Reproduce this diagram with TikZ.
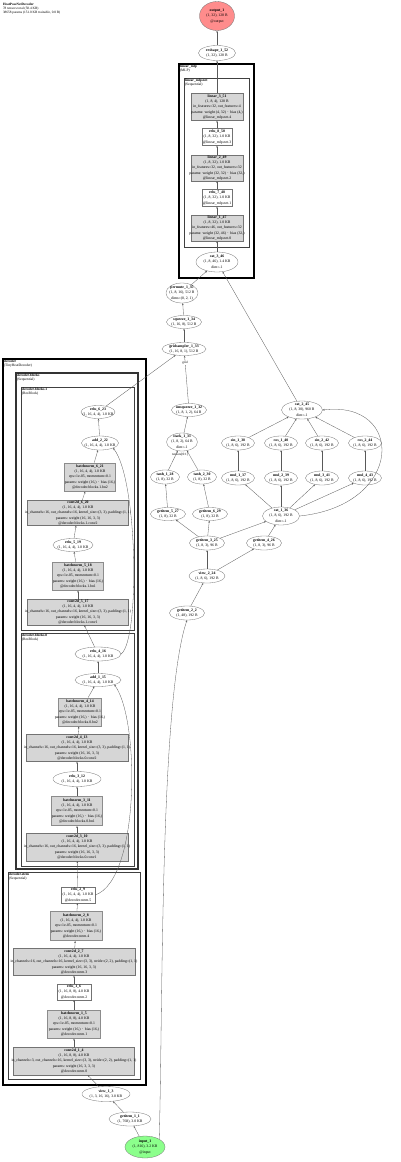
\documentclass[tikz,border=0pt]{standalone}
\usepackage{fontspec}
\setmainfont{Liberation Serif}
\usetikzlibrary{shapes.geometric,arrows.meta}
\newcommand{\T}[1]{\smash{\raisebox{-0.28em}{\makebox[0pt]{\begin{tabular}{@{}c@{}}#1\end{tabular}}}}}
\tikzset{
  base/.style={font=\fontsize{3.8}{5.2}\selectfont, inner sep=0pt, draw=black!55, line width=0.3pt},
  ell/.style={base, ellipse, fill=white},
  gbox/.style={base, rectangle, fill=black!16},
  bnbox/.style={base, rectangle, fill=black!16, draw=black!45, line width=1pt},
  wbox/.style={base, rectangle, fill=white},
  edge/.style={-{Stealth[length=2pt,width=1.6pt]}, draw=black!65, line width=0.3pt},
  clus/.style={draw=black, line width=#1},
  clab/.style={font=\fontsize{3.6}{4.2}\selectfont, align=left, anchor=north west, inner sep=0.8pt},
  elab/.style={font=\fontsize{3.3}{3.8}\selectfont, inner sep=0.3pt}
}
\begin{document}
\begin{tikzpicture}[x=1pt,y=-1pt]
\useasboundingbox (0,0) rectangle (400,1162);
\fill[white] (0,0) rectangle (400,1162);
% header
\node[clab, font=\fontsize{3.4}{4}\selectfont] (hdr) at (2,2) {\textbf{HeatPoseNetDecoder}\\78 tensors total (58.4 KB)\\38658 params (151.0 KB trainable, 0.0 B)};
% clusters
\draw[clus=1.3pt] (179,64) rectangle (254,278);
\node[clab] (clmlp) at (179,64) {\textbf{linear\_mlp}\\(MLP)};
\draw[clus=0.9pt, draw=black!75] (184,78) rectangle (249,247);
\node[clab] (clnet) at (184,78) {\textbf{linear\_mlp.net}\\(Sequential)};
\draw[clus=1.6pt] (3,359) rectangle (146,1085);
\node[clab] (cldec) at (3,359) {\textbf{decoder}\\(TinyHeatDecoder)};
\draw[clus=1.3pt, draw=black!80] (16,373) rectangle (138,869);
\node[clab] (clblk) at (16,373) {\textbf{decoder.blocks}\\(Sequential)};
\draw[clus=0.9pt, draw=black!75] (21,387) rectangle (134,630);
\node[clab] (clb1) at (21,387) {\textbf{decoder.blocks.1}\\(ResBlock)};
\draw[clus=0.9pt, draw=black!75] (21,633) rectangle (134,866);
\node[clab] (clb0) at (21,633) {\textbf{decoder.blocks.0}\\(ResBlock)};
\draw[clus=0.9pt, draw=black!75] (8,872) rectangle (140,1079);
\node[clab] (clstem) at (8,872) {\textbf{decoder.stem}\\(Sequential)};

% MLP head
\node[ell, fill=red!45, minimum width=35, minimum height=29] (out) at (217,16) {\T{\textbf{output\_1}\\(1, 32), 128 B\\@output}};
\node[ell, minimum width=37, minimum height=15] (resh) at (217,53) {\T{\textbf{reshape\_1\_52}\\(1, 32), 128 B}};
\node[gbox, minimum width=52, minimum height=27] (lin3) at (217,107) {\T{\textbf{linear\_3\_51}\\(1, 8, 4), 128 B\\in\_features=32, out\_features=4\\params: weight (4, 32) $\cdot$ bias (4,)\\@linear\_mlp.net.4}};
\node[wbox, minimum width=30, minimum height=17] (relu8) at (217,137) {\T{\textbf{relu\_8\_50}\\(1, 8, 32), 1.0 KB\\@linear\_mlp.net.3}};
\node[gbox, minimum width=52, minimum height=26] (lin2) at (217,168) {\T{\textbf{linear\_2\_49}\\(1, 8, 32), 1.0 KB\\in\_features=32, out\_features=32\\params: weight (32, 32) $\cdot$ bias (32,)\\@linear\_mlp.net.2}};
\node[wbox, minimum width=30, minimum height=17] (relu7) at (217,198) {\T{\textbf{relu\_7\_48}\\(1, 8, 32), 1.0 KB\\@linear\_mlp.net.1}};
\node[gbox, minimum width=52, minimum height=26] (lin1) at (217,228) {\T{\textbf{linear\_1\_47}\\(1, 8, 32), 1.0 KB\\in\_features=46, out\_features=32\\params: weight (32, 46) $\cdot$ bias (32,)\\@linear\_mlp.net.0}};
\node[ell, minimum width=42, minimum height=20] (cat3) at (217,262) {\T{\textbf{cat\_3\_46}\\(1, 8, 46), 1.4 KB\\dim=-1}};
\node[ell, minimum width=32, minimum height=20] (perm) at (182,293) {\T{\textbf{permute\_1\_35}\\(1, 8, 16), 512 B\\dims=(0, 2, 1)}};
\node[ell, minimum width=35, minimum height=13] (sq) at (184,322) {\T{\textbf{squeeze\_1\_34}\\(1, 16, 8), 512 B}};
\node[ell, minimum width=44, minimum height=13] (gs) at (184,349) {\T{\textbf{gridsampler\_1\_33}\\(1, 16, 8, 1), 512 B}};

% right branch
\node[ell, minimum width=35, minimum height=13] (unsq) at (189,410) {\T{\textbf{unsqueeze\_1\_32}\\(1, 8, 1, 2), 64 B}};
\node[ell, minimum width=31, minimum height=18] (stack) at (182,442) {\T{\textbf{stack\_1\_31}\\(1, 8, 2), 64 B\\dim=-1}};
\node[ell, minimum width=29, minimum height=14] (tanh1) at (165,477) {\T{\textbf{tanh\_1\_28}\\(1, 8), 32 B}};
\node[ell, minimum width=29, minimum height=14] (tanh2) at (202,477) {\T{\textbf{tanh\_2\_30}\\(1, 8), 32 B}};
\node[ell, minimum width=35, minimum height=13] (gi5) at (168,514) {\T{\textbf{getitem\_5\_27}\\(1, 8), 32 B}};
\node[ell, minimum width=35, minimum height=13] (gi6) at (210,514) {\T{\textbf{getitem\_6\_29}\\(1, 8), 32 B}};
\node[ell, minimum width=35, minimum height=14] (gi3) at (207,543) {\T{\textbf{getitem\_3\_25}\\(1, 8, 3), 96 B}};
\node[ell, minimum width=35, minimum height=14] (gi4) at (264,543) {\T{\textbf{getitem\_4\_26}\\(1, 8, 3), 96 B}};
\node[ell, minimum width=36, minimum height=14] (view2) at (207,576) {\T{\textbf{view\_2\_24}\\(1, 8, 6), 192 B}};
\node[ell, minimum width=35, minimum height=14] (gi2) at (187,613) {\T{\textbf{getitem\_2\_2}\\(1, 48), 192 B}};
\node[ell, minimum width=37, minimum height=18] (cat1) at (281,516) {\T{\textbf{cat\_1\_36}\\(1, 8, 6), 192 B\\dim=-1}};
\node[ell, minimum width=33, minimum height=14] (mul1) at (238,478) {\T{\textbf{mul\_1\_37}\\(1, 8, 6), 192 B}};
\node[ell, minimum width=33, minimum height=14] (mul2) at (281,478) {\T{\textbf{mul\_2\_39}\\(1, 8, 6), 192 B}};
\node[ell, minimum width=33, minimum height=14] (mul3) at (322,478) {\T{\textbf{mul\_3\_41}\\(1, 8, 6), 192 B}};
\node[ell, minimum width=33, minimum height=14] (mul4) at (365,478) {\T{\textbf{mul\_4\_43}\\(1, 8, 6), 192 B}};
\node[ell, minimum width=33, minimum height=14] (sin1) at (238,443) {\T{\textbf{sin\_1\_38}\\(1, 8, 6), 192 B}};
\node[ell, minimum width=33, minimum height=14] (cos1) at (281,443) {\T{\textbf{cos\_1\_40}\\(1, 8, 6), 192 B}};
\node[ell, minimum width=33, minimum height=14] (sin2) at (322,443) {\T{\textbf{sin\_2\_42}\\(1, 8, 6), 192 B}};
\node[ell, minimum width=33, minimum height=14] (cos2) at (365,443) {\T{\textbf{cos\_2\_44}\\(1, 8, 6), 192 B}};
\node[ell, minimum width=41, minimum height=18] (cat2) at (302,410) {\T{\textbf{cat\_2\_45}\\(1, 8, 30), 960 B\\dim=-1}};

% decoder blocks.1
\node[ell, minimum width=34, minimum height=13] (relu6) at (98,412) {\T{\textbf{relu\_6\_23}\\(1, 16, 4, 4), 1.0 KB}};
\node[ell, minimum width=37, minimum height=14] (add2) at (100,443) {\T{\textbf{add\_2\_22}\\(1, 16, 4, 4), 1.0 KB}};
\node[bnbox, minimum width=51, minimum height=28] (bn6) at (90,477) {\T{\textbf{batchnorm\_6\_21}\\(1, 16, 4, 4), 1.0 KB\\eps=1e-05, momentum=0.1\\params: weight (16,) $\cdot$ bias (16,)\\@decoder.blocks.1.bn2}};
\node[gbox, minimum width=101, minimum height=25] (conv6) at (78,513) {\T{\textbf{conv2d\_6\_20}\\(1, 16, 4, 4), 1.0 KB\\in\_channels=16, out\_channels=16, kernel\_size=(3, 3), padding=(1, 1)\\params: weight (16, 16, 3, 3)\\@decoder.blocks.1.conv2}};
\node[ell, minimum width=40, minimum height=13] (relu5) at (73,545) {\T{\textbf{relu\_5\_19}\\(1, 16, 4, 4), 1.0 KB}};
\node[bnbox, minimum width=51, minimum height=28] (bn5) at (78,576) {\T{\textbf{batchnorm\_5\_18}\\(1, 16, 4, 4), 1.0 KB\\eps=1e-05, momentum=0.1\\params: weight (16,) $\cdot$ bias (16,)\\@decoder.blocks.1.bn1}};
\node[gbox, minimum width=101, minimum height=26] (conv5) at (78,612) {\T{\textbf{conv2d\_5\_17}\\(1, 16, 4, 4), 1.0 KB\\in\_channels=16, out\_channels=16, kernel\_size=(3, 3), padding=(1, 1)\\params: weight (16, 16, 3, 3)\\@decoder.blocks.1.conv1}};

% decoder blocks.0
\node[ell, minimum width=46, minimum height=14] (relu4) at (98,654) {\T{\textbf{relu\_4\_16}\\(1, 16, 4, 4), 1.0 KB}};
\node[ell, minimum width=46, minimum height=13] (add1) at (98,680) {\T{\textbf{add\_1\_15}\\(1, 16, 4, 4), 1.0 KB}};
\node[bnbox, minimum width=43, minimum height=28] (bn4) at (80,712) {\T{\textbf{batchnorm\_4\_14}\\(1, 16, 4, 4), 1.0 KB\\eps=1e-05, momentum=0.1\\params: weight (16,) $\cdot$ bias (16,)\\@decoder.blocks.0.bn2}};
\node[gbox, minimum width=102, minimum height=27] (conv4) at (77,748) {\T{\textbf{conv2d\_4\_13}\\(1, 16, 4, 4), 1.0 KB\\in\_channels=16, out\_channels=16, kernel\_size=(3, 3), padding=(1, 1)\\params: weight (16, 16, 3, 3)\\@decoder.blocks.0.conv2}};
\node[ell, minimum width=48, minimum height=15] (relu3) at (77,779) {\T{\textbf{relu\_3\_12}\\(1, 16, 4, 4), 1.0 KB}};
\node[bnbox, minimum width=51, minimum height=29] (bn3) at (77,811) {\T{\textbf{batchnorm\_3\_11}\\(1, 16, 4, 4), 1.0 KB\\eps=1e-05, momentum=0.1\\params: weight (16,) $\cdot$ bias (16,)\\@decoder.blocks.0.bn1}};
\node[gbox, minimum width=102, minimum height=28] (conv3) at (77,847) {\T{\textbf{conv2d\_3\_10}\\(1, 16, 4, 4), 1.0 KB\\in\_channels=16, out\_channels=16, kernel\_size=(3, 3), padding=(1, 1)\\params: weight (16, 16, 3, 3)\\@decoder.blocks.0.conv1}};

% stem
\node[wbox, minimum width=34, minimum height=16] (relu2) at (78,895) {\T{\textbf{relu\_2\_9}\\(1, 16, 4, 4), 1.0 KB\\@decoder.stem.5}};
\node[bnbox, minimum width=52, minimum height=29] (bn2) at (76,926) {\T{\textbf{batchnorm\_2\_8}\\(1, 16, 4, 4), 1.0 KB\\eps=1e-05, momentum=0.1\\params: weight (16,) $\cdot$ bias (16,)\\@decoder.stem.4}};
\node[gbox, minimum width=122, minimum height=27] (conv2) at (74,962) {\T{\textbf{conv2d\_2\_7}\\(1, 16, 4, 4), 1.0 KB\\in\_channels=16, out\_channels=16, kernel\_size=(3, 3), stride=(2, 2), padding=(1, 1)\\params: weight (16, 16, 3, 3)\\@decoder.stem.3}};
\node[wbox, minimum width=34, minimum height=16] (relu1) at (74,992) {\T{\textbf{relu\_1\_6}\\(1, 16, 8, 8), 4.0 KB\\@decoder.stem.2}};
\node[bnbox, minimum width=53, minimum height=28] (bn1) at (74,1024) {\T{\textbf{batchnorm\_1\_5}\\(1, 16, 8, 8), 4.0 KB\\eps=1e-05, momentum=0.1\\params: weight (16,) $\cdot$ bias (16,)\\@decoder.stem.1}};
\node[gbox, minimum width=121, minimum height=28] (conv1) at (74,1061) {\T{\textbf{conv2d\_1\_4}\\(1, 16, 8, 8), 4.0 KB\\in\_channels=3, out\_channels=16, kernel\_size=(3, 3), stride=(2, 2), padding=(1, 1)\\params: weight (16, 3, 3, 3)\\@decoder.stem.0}};

% bottom
\node[ell, minimum width=48, minimum height=15] (view1) at (106,1094) {\T{\textbf{view\_1\_3}\\(1, 3, 16, 16), 3.0 KB}};
\node[ell, minimum width=42, minimum height=14] (gi1) at (130,1119) {\T{\textbf{getitem\_1\_1}\\(1, 768), 3.0 KB}};
\node[ell, fill=green!45, minimum width=40, minimum height=22] (inp) at (145,1147) {\T{\textbf{input\_1}\\(1, 816), 3.2 KB\\@input}};

% edges
\draw[edge] (resh) -- (out);
\draw[edge] (lin3) -- (resh);
\draw[edge] (relu8) -- (lin3);
\draw[edge] (lin2) -- (relu8);
\draw[edge] (relu7) -- (lin2);
\draw[edge] (lin1) -- (relu7);
\draw[edge] (cat3) -- (lin1);
\draw[edge] (perm) -- (cat3);
\draw[edge] (cat2) -- (cat3);
\draw[edge] (sq) -- (perm);
\draw[edge] (gs) -- (sq);
\draw[edge] (unsq) -- node[elab, pos=0.85, fill=white] {grid} (gs);
\draw[edge] (relu6) -- (gs);
\draw[edge] (stack) -- (unsq);
\draw[edge] (tanh1) -- (stack);
\draw[edge] (tanh2) -- (stack);
\node[elab] (stlab) at (180,455) {tensors[0:1]};
\draw[edge] (gi5) -- (tanh1);
\draw[edge] (gi6) -- (tanh2);
\draw[edge] (gi3) -- (gi5);
\draw[edge] (gi3) -- (gi6);
\draw[edge] (gi3) -- (cat1);
\draw[edge] (gi4) -- (cat1);
\draw[edge] (view2) -- (gi3);
\draw[edge] (view2) -- (gi4);
\draw[edge] (gi2) -- (view2);
\draw[edge] (cat1) -- (mul1);
\draw[edge] (cat1) -- (mul2);
\draw[edge] (cat1) -- (mul3);
\draw[edge] (cat1) -- (mul4);
\draw[edge] (mul1) -- (sin1);
\draw[edge] (mul2) -- (cos1);
\draw[edge] (mul3) -- (sin2);
\draw[edge] (mul4) -- (cos2);
\draw[edge] (sin1) -- (cat2);
\draw[edge] (cos1) -- (cat2);
\draw[edge] (sin2) -- (cat2);
\draw[edge] (cos2) -- (cat2);
\draw[edge] (cat1.east) .. controls (405,505) and (405,400) .. (cat2.east);
\draw[edge] (inp.north east) .. controls (163,1000) and (160,700) .. (gi2.south);
\draw[edge] (inp) -- (gi1);
\draw[edge] (gi1) -- (view1);
\draw[edge] (view1) -- (conv1);
\draw[edge] (conv1) -- (bn1);
\draw[edge] (bn1) -- (relu1);
\draw[edge] (relu1) -- (conv2);
\draw[edge] (conv2) -- (bn2);
\draw[edge] (bn2) -- (relu2);
\draw[edge] (relu2) -- (conv3);
\draw[edge] (conv3) -- (bn3);
\draw[edge] (bn3) -- (relu3);
\draw[edge] (relu3) -- (conv4);
\draw[edge] (conv4) -- (bn4);
\draw[edge] (bn4) -- (add1);
\draw[edge] (relu2.east) .. controls (140,880) and (140,720) .. (add1.south east);
\draw[edge] (add1) -- (relu4);
\draw[edge] (relu4) -- (conv5);
\draw[edge] (conv5) -- (bn5);
\draw[edge] (bn5) -- (relu5);
\draw[edge] (relu5) -- (conv6);
\draw[edge] (conv6) -- (bn6);
\draw[edge] (bn6) -- (add2);
\draw[edge] (relu4.east) .. controls (140,640) and (138,480) .. (add2.south east);
\draw[edge] (add2) -- (relu6);
\end{tikzpicture}
\end{document}
